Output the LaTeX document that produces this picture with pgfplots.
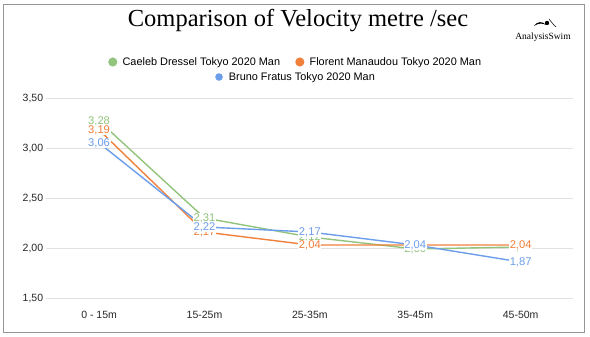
\documentclass[border=0pt]{standalone}
\usepackage{fontspec}
\setmainfont{Liberation Sans}
\newfontfamily\seriffont{Liberation Serif}
\usepackage{pgfplots}
\pgfplotsset{compat=1.18}
\definecolor{cgreen}{RGB}{147,196,125}
\definecolor{corange}{RGB}{240,128,60}
\definecolor{cblue}{RGB}{109,158,235}
\definecolor{cgrid}{RGB}{225,225,225}
\definecolor{cborder}{RGB}{150,150,150}
\begin{document}
\begin{tikzpicture}[x=1pt,y=1pt]
\useasboundingbox (0,0) rectangle (590,337);
\fill[white] (0,0) rectangle (590,337);
\draw[cborder, line width=1pt] (3,4) rectangle (584,332);
\begin{axis}[
  name=main,
  at={(44,38)}, anchor=south west,
  scale only axis, width=527, height=200,
  xmin=-0.5, xmax=4.5, ymin=1.5, ymax=3.5,
  xtick={0,1,2,3,4},
  xticklabels={0 - 15m,15-25m,25-35m,35-45m,45-50m},
  ytick={1.5,2,2.5,3,3.5},
  axis line style={draw=none},
  major tick length=0pt,
  ymajorgrids, grid style={cgrid, line width=1pt},
  tick label style={font=\fontsize{10.5}{12}\selectfont, text=black!85},
  /pgf/number format/assume math mode=true,
  yticklabel={\pgfmathprintnumber[fixed,fixed zerofill,precision=2,use comma]{\tick}},
  yticklabel style={inner sep=1pt, xshift=-2pt},
  xticklabel style={yshift=-9pt},
  nodes near coords={\pgfmathprintnumber[fixed,fixed zerofill,precision=2,use comma,assume math mode=true]{\pgfplotspointmeta}},
  every node near coord/.append style={anchor=center, fill=white, inner sep=0.6pt, font=\fontsize{11.2}{13}\selectfont},
  legend style={at={(axis description cs:0.472,1.185)}, anchor=center, draw=none, font=\fontsize{10.9}{13}\selectfont, /tikz/every even column/.append style={column sep=12pt}},
  legend columns=2,
  legend image code/.code={\path[draw=none,fill=none] (0,0) -- (0.475cm,0); \fill[#1] (0.2cm,0) circle (3.8pt);},
  clip=false,
]
\addplot[cgreen, line width=1.4pt, every node near coord/.append style={text=cgreen}] coordinates {(0,3.28) (1,2.31) (2,2.12) (3,2.00) (4,2.02)};
\addlegendentry{Caeleb Dressel Tokyo 2020 Man}
\addplot[corange, line width=1.4pt, every node near coord/.append style={text=corange}] coordinates {(0,3.19) (1,2.17) (2,2.04) (3,2.04) (4,2.04)};
\addlegendentry{Florent Manaudou Tokyo 2020 Man}
\addplot[cblue, line width=1.4pt, every node near coord/.append style={text=cblue}] coordinates {(0,3.06) (1,2.22) (2,2.17) (3,2.04) (4,1.87)};
\end{axis}
\begin{axis}[
  at={(main.south west)}, anchor=south west,
  scale only axis, width=527, height=200,
  xmin=0, xmax=1, ymin=0, ymax=1,
  axis lines=none, xtick=\empty, ytick=\empty,
  legend style={at={(axis description cs:0.472,1.11)}, anchor=center, draw=none, fill=none, font=\fontsize{10.9}{13}\selectfont},
  legend image code/.code={\path[draw=none,fill=none] (0,0) -- (0.475cm,0); \fill[#1] (0.2cm,0) circle (3.8pt);},
]
\addplot[cblue, draw=none] coordinates {(0.5,0.5)};
\addlegendentry{Bruno Fratus Tokyo 2020 Man}
\end{axis}
\node[font=\seriffont\fontsize{24.5}{28}\selectfont] at (298,316) {Comparison of Velocity metre /sec};
% logo
\node[font=\seriffont\fontsize{9.5}{11}\selectfont] at (543,300) {AnalysisSwim};
\fill[black] (534,311) .. controls (537,316) and (543,316) .. (546,312) .. controls (543,314) and (538,314) .. (534,311);
\fill[black] (547,314) circle (2.2);
\draw[black, line width=0.5pt] (549,318) -- (553,313) -- (556,310);
\end{tikzpicture}
\end{document}
